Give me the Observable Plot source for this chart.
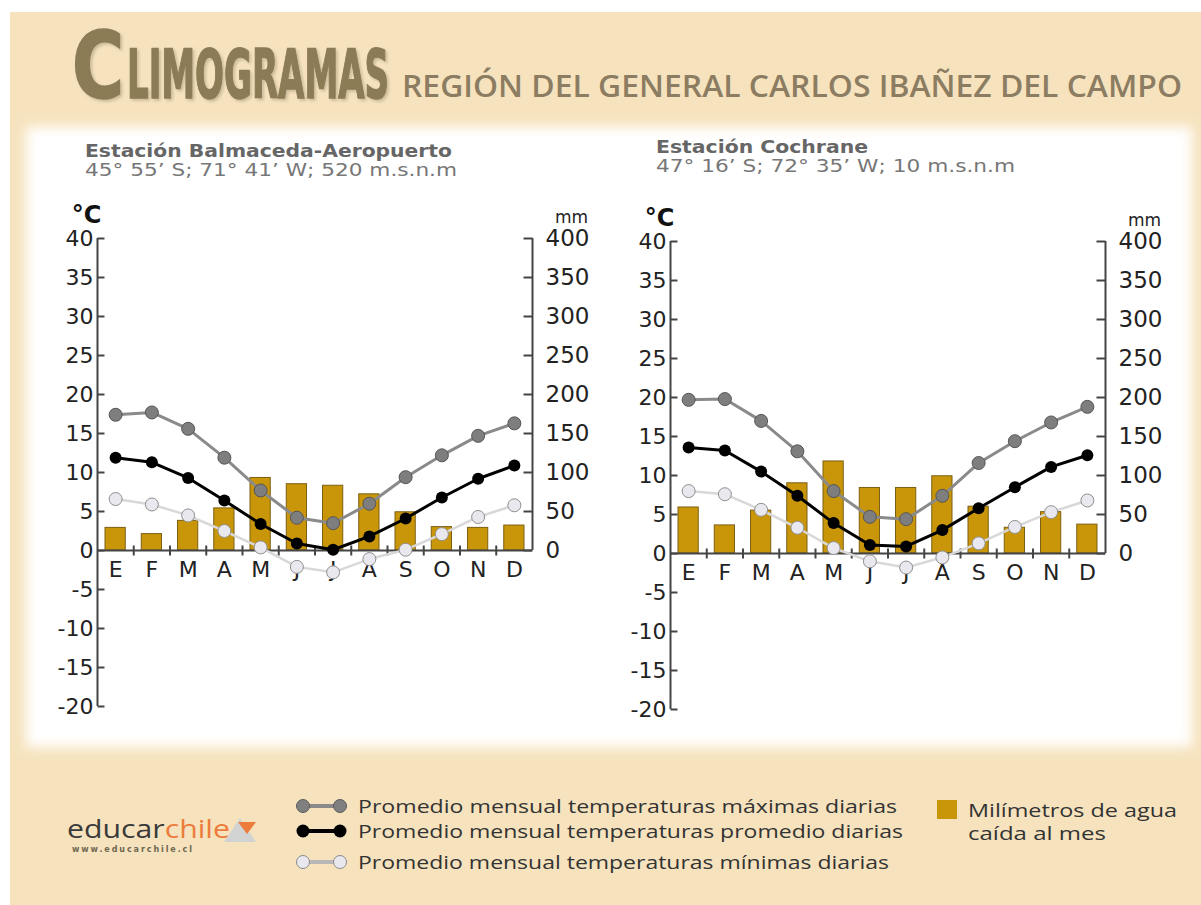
<!DOCTYPE html>
<html>
<head>
<meta charset="utf-8">
<script src="https://cdn.jsdelivr.net/npm/d3@7"></script>
<script src="https://cdn.jsdelivr.net/npm/@observablehq/plot@0.6"></script>
<style>
  html, body { margin: 0; padding: 0; background: #ffffff; }
  #page { position: relative; width: 1201px; height: 905px; overflow: hidden; }
  #bg { position: absolute; left: 0; top: 0; }
  .chart { position: absolute; }
</style>
</head>
<body>
<div id="page">
<svg id="bg" width="1201" height="905" xmlns="http://www.w3.org/2000/svg">
  <defs>
    <filter id="soft" x="-5%" y="-5%" width="110%" height="110%">
      <feGaussianBlur stdDeviation="6"/>
    </filter>
    <filter id="shadow" x="-5%" y="-20%" width="110%" height="140%">
      <feDropShadow dx="2" dy="2" stdDeviation="1.5" flood-color="#b9a888" flood-opacity="0.7"/>
    </filter>
  </defs>
  <rect x="10" y="12" width="1191" height="893" fill="#f6e3be"/>
  <rect x="26" y="127" width="1166" height="620" fill="#ffffff" filter="url(#soft)"/>
  <g filter="url(#shadow)" fill="#8b7b56" stroke="#8b7b56" stroke-width="1.5" font-family="DejaVu Sans Condensed, DejaVu Sans" font-weight="bold">
    <text x="72" y="98" font-size="92" textLength="52" lengthAdjust="spacingAndGlyphs">C</text>
    <text x="127" y="98" font-size="68" textLength="262" lengthAdjust="spacingAndGlyphs">LIMOGRAMAS</text>
  </g>
  <text x="402" y="97" font-family="Open Sans" font-weight="600" font-size="30" fill="#8c7d62" textLength="780" lengthAdjust="spacingAndGlyphs">REGIÓN DEL GENERAL CARLOS IBAÑEZ DEL CAMPO</text>

  <g font-family="DejaVu Sans" font-size="18">
    <text x="85" y="157" font-weight="bold" fill="#666666" textLength="367" lengthAdjust="spacingAndGlyphs">Estación Balmaceda-Aeropuerto</text>
    <text x="85" y="176" fill="#777777" textLength="372" lengthAdjust="spacingAndGlyphs">45° 55’ S; 71° 41’ W; 520 m.s.n.m</text>
    <text x="656" y="153" font-weight="bold" fill="#666666" textLength="212" lengthAdjust="spacingAndGlyphs">Estación Cochrane</text>
    <text x="656" y="172" fill="#777777" textLength="359" lengthAdjust="spacingAndGlyphs">47° 16’ S; 72° 35’ W; 10 m.s.n.m</text>
  </g>

  <!-- legend -->
  <g>
    <line x1="303" y1="806" x2="340" y2="806" stroke="#8a8a8a" stroke-width="4"/>
    <circle cx="303" cy="806" r="6.5" fill="#808080" stroke="#5a5a5a" stroke-width="1"/>
    <circle cx="340" cy="806" r="6.5" fill="#808080" stroke="#5a5a5a" stroke-width="1"/>
    <line x1="303" y1="831" x2="340" y2="831" stroke="#000" stroke-width="4"/>
    <circle cx="303" cy="831" r="6.5" fill="#000"/>
    <circle cx="340" cy="831" r="6.5" fill="#000"/>
    <line x1="303" y1="862" x2="340" y2="862" stroke="#b8b8b8" stroke-width="4"/>
    <circle cx="303" cy="862" r="6.5" fill="#e8e8ee" stroke="#8a8a8a" stroke-width="1"/>
    <circle cx="340" cy="862" r="6.5" fill="#e8e8ee" stroke="#8a8a8a" stroke-width="1"/>
  </g>
  <g font-family="Open Sans" font-size="19" fill="#333333">
    <text x="358" y="813" textLength="539" lengthAdjust="spacingAndGlyphs">Promedio mensual temperaturas máximas diarias</text>
    <text x="358" y="838" textLength="545" lengthAdjust="spacingAndGlyphs">Promedio mensual temperaturas promedio diarias</text>
    <text x="358" y="869" textLength="531" lengthAdjust="spacingAndGlyphs">Promedio mensual temperaturas mínimas diarias</text>
    <text x="968" y="817" textLength="209" lengthAdjust="spacingAndGlyphs">Milímetros de agua</text>
    <text x="968" y="840" textLength="138" lengthAdjust="spacingAndGlyphs">caída al mes</text>
  </g>
  <rect x="937" y="800" width="20" height="19" fill="#c9960a"/>

  <!-- logo -->
  <path d="M224,842 L240,818 L256,842 Z" fill="#c9d0d8" opacity="0.8"/>
  <path d="M238,822 L256,822 L247,834 Z" fill="#ec7b3c"/>
  <text x="67" y="838" font-family="Open Sans" font-size="25" fill="#3a3a3a" textLength="163" lengthAdjust="spacingAndGlyphs">educar<tspan fill="#ec7b3c">chile</tspan></text>
  <text x="72" y="852" font-family="DejaVu Sans" font-size="8" font-weight="bold" fill="#6e6650" textLength="120" lengthAdjust="spacing">www.educarchile.cl</text>
</svg>
</div>
<script>
const months = ["E","F","M","A","M","J","J","A","S","O","N","D"];
const tempTicks = [-20,-15,-10,-5,0,5,10,15,20,25,30,35,40];
const mmTicks = [0,50,100,150,200,250,300,350,400];

const balMax  = [17.4,17.7,15.6,11.9,7.7,4.2,3.5,6.0,9.4,12.2,14.7,16.3];
const balMean = [11.9,11.3,9.3,6.4,3.4,0.9,0.1,1.8,4.1,6.8,9.2,10.9];
const balMin  = [6.6,5.9,4.5,2.5,0.4,-2.1,-2.8,-1.1,0.1,2.1,4.3,5.8];
const balPrec = [29,21,38,54,93,85,83,72,49,30,29,32];

const cocMax  = [19.7,19.8,17.0,13.1,8.0,4.7,4.4,7.4,11.6,14.4,16.8,18.8];
const cocMean = [13.6,13.2,10.5,7.4,3.9,1.1,0.9,3.0,5.8,8.5,11.1,12.6];
const cocMin  = [8.0,7.6,5.6,3.3,0.7,-1.0,-1.8,-0.5,1.3,3.4,5.3,6.8];
const cocPrec = [59,36,55,90,118,84,84,99,60,33,53,37];

// precipitation (mm) shares the temperature axis at 10 mm per °C
const mmPerDegree = 10;

// tick glyphs drawn as dot symbols (length = r in px)
const tickRight = {draw(c, s){ const l = Math.sqrt(s/Math.PI); c.moveTo(0,0); c.lineTo(l,0); }};
const tickLeft  = {draw(c, s){ const l = Math.sqrt(s/Math.PI); c.moveTo(-l,0); c.lineTo(0,0); }};
const tickVert  = {draw(c, s){ const l = Math.sqrt(s/Math.PI); c.moveTo(0,-l); c.lineTo(0,l); }};

function climograph(maxs, means, mins, prec) {
  const rows = months.map((m, i) => ({m, i, max: maxs[i], mean: means[i], min: mins[i], prec: prec[i]}));
  const n = months.length;
  const font = "DejaVu Sans";
  const mmTop = d3.max(mmTicks) / mmPerDegree;
  return Plot.plot({
    width: 582, height: 536,
    marginLeft: 77, marginRight: 70, marginTop: 38, marginBottom: 30,
    x: {domain: [0, n], axis: null},
    y: {domain: [d3.min(tempTicks), d3.max(tempTicks)], axis: null},
    style: {background: "transparent", overflow: "visible", fontFamily: font},
    marks: [
      Plot.rectY(rows, {x1: d => d.i, x2: d => d.i + 1, y1: 0, y2: d => d.prec / mmPerDegree,
        insetLeft: 8, insetRight: 8, fill: "#c9960a", stroke: "#7d5f12", strokeWidth: 1}),
      Plot.ruleY([0], {stroke: "#444", strokeWidth: 2}),
      Plot.ruleX([0], {y1: d3.min(tempTicks), y2: d3.max(tempTicks), stroke: "#444", strokeWidth: 2}),
      Plot.ruleX([n], {y1: 0, y2: mmTop, stroke: "#444", strokeWidth: 2}),
      Plot.dot(tempTicks, {x: 0, y: d => d, symbol: tickRight, r: 7, stroke: "#444", strokeWidth: 2}),
      Plot.dot(mmTicks, {x: n, y: d => d / mmPerDegree, symbol: tickLeft, r: 9, stroke: "#444", strokeWidth: 2}),
      Plot.dot(d3.range(1, n), {x: d => d, y: 0, symbol: tickVert, r: 5, stroke: "#444", strokeWidth: 2}),
      Plot.text(tempTicks, {x: 0, y: d => d, text: d => String(d), textAnchor: "end", dx: -4,
        fontSize: 22, fill: "#222", letterSpacing: -1.5}),
      Plot.text(mmTicks, {x: n, y: d => d / mmPerDegree, text: d => String(d), textAnchor: "start", dx: 13,
        fontSize: 23, fill: "#222"}),
      Plot.text(rows, {x: d => d.i + 0.5, y: 0, text: "m", dy: 19, fontSize: 22, fill: "#222"}),
      Plot.text(["°C"], {x: 0, y: d3.max(tempTicks), text: d => d, dx: -11, dy: -23, fontSize: 24, fill: "#111", fontWeight: "bold"}),
      Plot.text(["mm"], {x: n, y: mmTop, text: d => d, dx: 39, dy: -21, fontSize: 17, fill: "#222"}),
      Plot.lineY(rows, {x: d => d.i + 0.5, y: "min", stroke: "#d8d8d8", strokeWidth: 2.5}),
      Plot.dot(rows, {x: d => d.i + 0.5, y: "min", r: 6.5, fill: "#e8e8ee", stroke: "#8f8f8f", strokeWidth: 1}),
      Plot.lineY(rows, {x: d => d.i + 0.5, y: "max", stroke: "#8a8a8a", strokeWidth: 3}),
      Plot.dot(rows, {x: d => d.i + 0.5, y: "max", r: 6.5, fill: "#7e7e7e", stroke: "#555", strokeWidth: 1}),
      Plot.lineY(rows, {x: d => d.i + 0.5, y: "mean", stroke: "#000", strokeWidth: 3}),
      Plot.dot(rows, {x: d => d.i + 0.5, y: "mean", r: 6, fill: "#000"})
    ]
  });
}

const page = document.getElementById("page");
function place(chart, left, top) {
  chart.classList.add("chart");
  chart.style.left = left + "px";
  chart.style.top = top + "px";
  page.appendChild(chart);
}
place(climograph(balMax, balMean, balMin, balPrec), 20, 200);
place(climograph(cocMax, cocMean, cocMin, cocPrec), 593, 203);
</script>
</body>
</html>
